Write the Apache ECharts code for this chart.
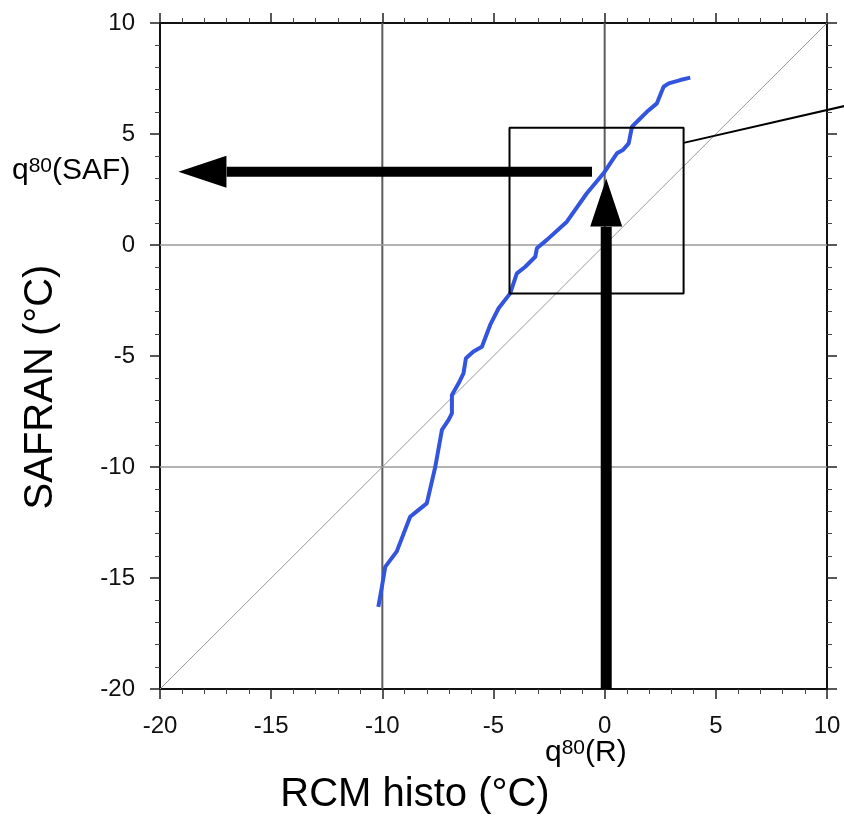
<!DOCTYPE html>
<html>
<head>
<meta charset="utf-8">
<script src="https://cdn.jsdelivr.net/npm/echarts@6/dist/echarts.min.js"></script>
<style>
  html, body { margin: 0; padding: 0; background: #fff; }
  #chart { width: 844px; height: 816px; }
</style>
</head>
<body>
<div id="chart"></div>
<script>
// quantile curve: RCM histo (x) vs SAFRAN (y), °C
const rcmQ = [-10.18, -10.02, -9.87, -9.35, -8.75, -8.45, -8.0, -7.62, -7.32, -7.02, -6.87, -6.87, -6.57,
  -6.35, -6.24, -5.9, -5.52, -5.15, -4.77, -4.25, -3.95, -3.57, -3.12, -3.05, -2.6, -1.7, -0.8, -0.05,
  0.55, 0.82, 1.08, 1.23, 1.53, 1.9, 2.35, 2.65, 2.88, 3.4, 3.85];
const safQ = [-16.3, -15.4, -14.5, -13.8, -12.24, -12.0, -11.64, -10.0, -8.33, -7.88, -7.58, -6.76, -6.23,
  -5.78, -5.1, -4.8, -4.58, -3.6, -2.85, -2.18, -1.28, -0.98, -0.53, -0.15, 0.23, 1.05, 2.33, 3.23,
  4.13, 4.28, 4.58, 5.33, 5.63, 6.0, 6.38, 7.13, 7.28, 7.43, 7.54];

const axisMin = -20;
const axisMax = 10;
const tickStep = 5;

const refX = [-10, 0];   // vertical grid lines
const refY = [0, -10];   // horizontal grid lines

// zoom box and the leader line going out to the right
const boxX = [-4.28, 3.55];
const boxY = [-2.18, 5.28];
const leader = [[3.55, 4.6], [10.78, 6.26]];

// q80 arrows
const q80R = 0.07;
const q80SAF = 3.3;
const hArrowStart = -0.57, hArrowBase = -17.0, hArrowHead = -18.09;
const vArrowBase = 0.82, vArrowHead = 1.91;

const font = 'Liberation Sans, Arial, sans-serif';
const chart = echarts.init(document.getElementById('chart'));

function axis(pos, labels) {
  return {
    type: 'value',
    position: pos,
    min: axisMin,
    max: axisMax,
    interval: tickStep,
    axisLine: { show: true, onZero: false, lineStyle: { color: '#111', width: 2 } },
    axisTick: { show: true, inside: false, length: 10, lineStyle: { color: '#222', width: 1.5 } },
    minorTick: { show: true, splitNumber: 5, length: 5, lineStyle: { color: '#444', width: 1 } },
    axisLabel: { show: labels, color: '#111', fontSize: 24, fontFamily: font, margin: 25 },
    splitLine: { show: false },
    minorSplitLine: { show: false }
  };
}

function seg(pts, color, width, extra) {
  return Object.assign({
    type: 'line',
    data: pts,
    symbol: 'none',
    silent: true,
    animation: false,
    lineStyle: { color: color, width: width, cap: 'butt', opacity: 1 }
  }, extra || {});
}

const series = [];
refX.forEach(v => series.push(seg([[v, axisMin], [v, axisMax]], '#5c5c5c', 2)));
refY.forEach(v => series.push(seg([[axisMin, v], [axisMax, v]], '#9a9a9a', 1.5)));
series.push(seg([[axisMin, axisMin], [axisMax, axisMax]], '#999', 1));
series.push(seg(rcmQ.map((x, i) => [x, safQ[i]]), '#3355dd', 4, { z: 4 }));
series.push(seg([[boxX[0], boxY[0]], [boxX[1], boxY[0]], [boxX[1], boxY[1]], [boxX[0], boxY[1]], [boxX[0], boxY[0]]], '#000', 2, { z: 5 }));
series.push(seg([[hArrowStart, q80SAF], [hArrowBase, q80SAF]], '#000', 10, { z: 6 }));
series.push(seg([[q80R, axisMin], [q80R, vArrowBase]], '#000', 11, { z: 6 }));
series.push({
  type: 'scatter',
  silent: true,
  animation: false,
  z: 6,
  symbol: 'triangle',
  symbolSize: [32, 48],
  itemStyle: { color: '#000', opacity: 1 },
  data: [
    { value: [hArrowHead, q80SAF], symbolRotate: 90 },
    { value: [q80R, vArrowHead], symbolRotate: 0 }
  ]
});

chart.setOption({
  backgroundColor: '#fff',
  animation: false,
  grid: { left: 160, top: 23, right: 17, bottom: 127, containLabel: false },
  xAxis: [axis('bottom', true), axis('top', false)],
  yAxis: [axis('left', true), axis('right', false)],
  series: series,
  graphic: [
    {
      type: 'text', left: 12, top: 156,
      style: {
        text: '{q|q}{s|80}{q|(SAF)}', fill: '#000',
        rich: {
          q: { fontSize: 30, fontFamily: font, fill: '#000' },
          s: { fontSize: 21, fontFamily: font, fill: '#000', verticalAlign: 'top' }
        }
      }
    },
    {
      type: 'text', left: 545, top: 738,
      style: {
        text: '{q|q}{s|80}{q|(R)}', fill: '#000',
        rich: {
          q: { fontSize: 30, fontFamily: font, fill: '#000' },
          s: { fontSize: 21, fontFamily: font, fill: '#000', verticalAlign: 'top' }
        }
      }
    },
    {
      type: 'text', x: 415, y: 795,
      style: { text: 'RCM histo (°C)', fontSize: 40, fontFamily: font, fill: '#000', align: 'center', verticalAlign: 'middle' }
    },
    {
      type: 'text', x: 41, y: 387, rotation: Math.PI / 2,
      style: { text: 'SAFRAN (°C)', fontSize: 40, fontFamily: font, fill: '#000', align: 'center', verticalAlign: 'middle' }
    }
  ]
});

// leader line leaves the plot area, so place it from the axis scales without clipping
const p0 = chart.convertToPixel({ xAxisIndex: 0, yAxisIndex: 0 }, leader[0]);
const p1 = chart.convertToPixel({ xAxisIndex: 0, yAxisIndex: 0 }, leader[1]);
chart.setOption({
  graphic: [{
    id: 'leader', type: 'line', z: 10, silent: true,
    shape: { x1: p0[0], y1: p0[1], x2: p1[0], y2: p1[1] },
    style: { stroke: '#000', lineWidth: 2 }
  }]
});
</script>
</body>
</html>
